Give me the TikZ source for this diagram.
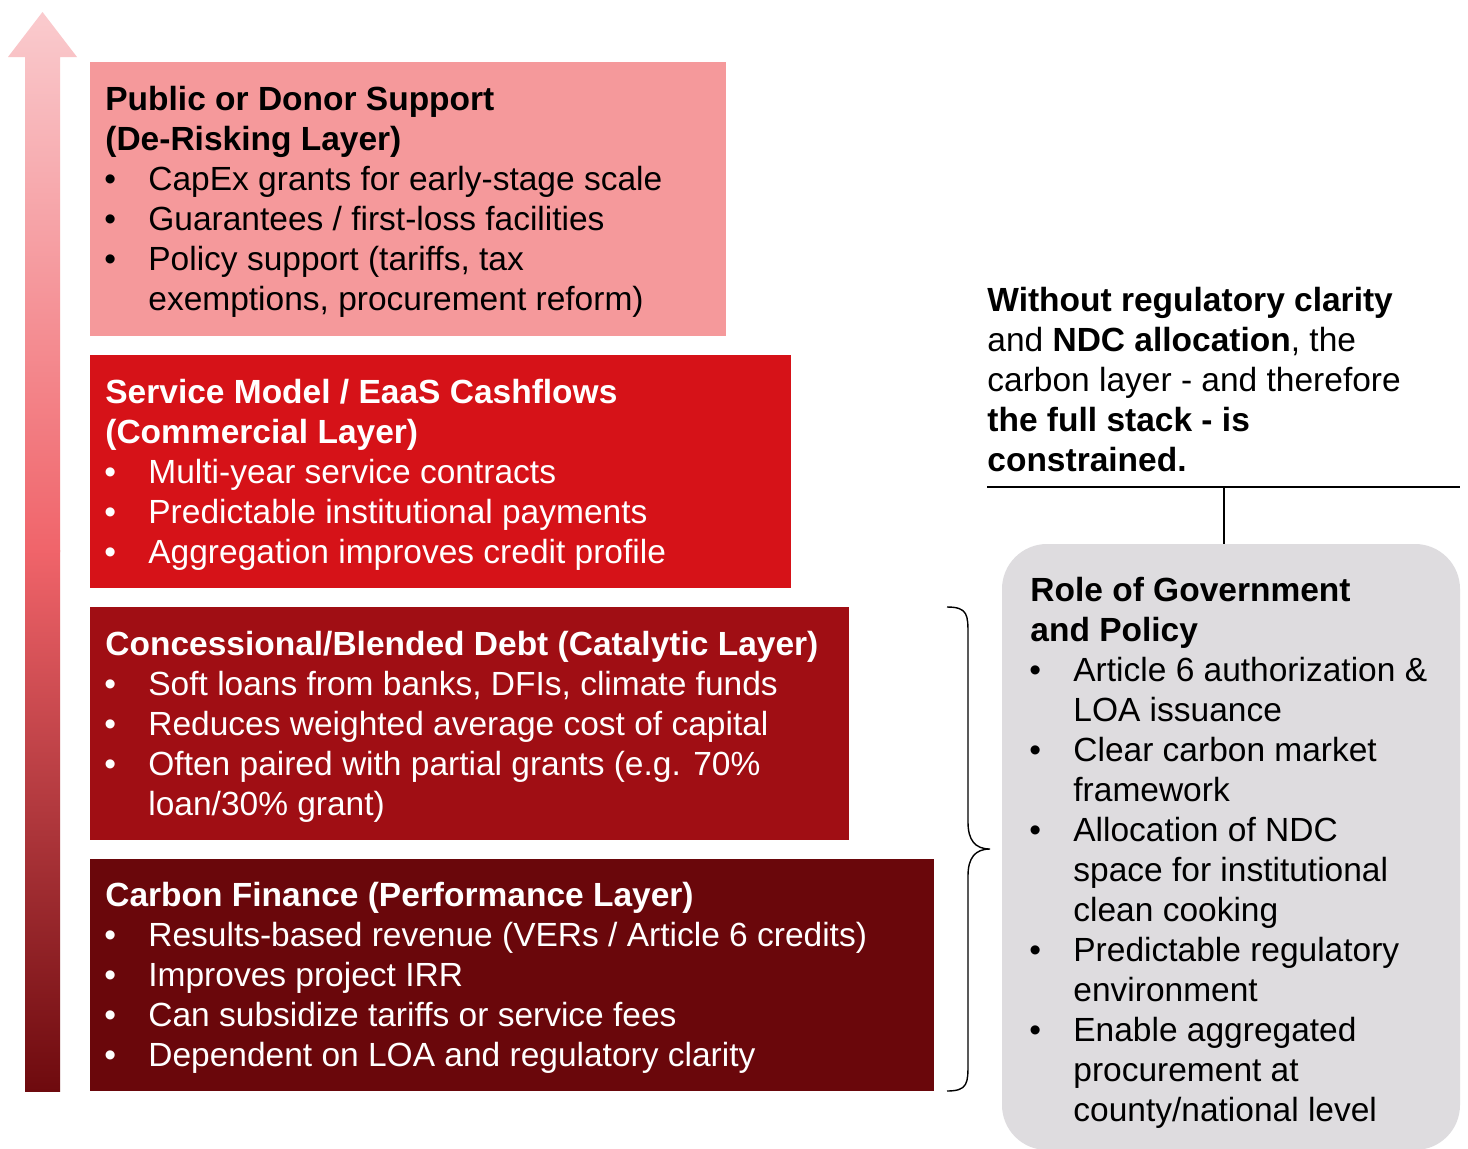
\documentclass[tikz,border=0pt]{standalone}
\usepackage{fontspec}
\setmainfont{Liberation Sans}
\definecolor{layerA}{HTML}{F5999B}
\definecolor{layerB}{HTML}{D61218}
\definecolor{layerC}{HTML}{A00E14}
\definecolor{layerD}{HTML}{6A070B}
\definecolor{govgrey}{HTML}{DEDCDF}
\definecolor{arrtop}{HTML}{FACBCE}
\definecolor{arrmid}{HTML}{F0646A}
\definecolor{arrbot}{HTML}{6E0A0E}
\newcommand\bul{\makebox[21.5pt][l]{\hspace{-0.5pt}•}}
\newcommand\ind{\hbox to 21.5pt{}}
\tikzset{
  layerbox/.style={anchor=north west, inner sep=0pt, draw=none},
  txt/.style={anchor=base west, inner sep=0pt, align=left, font=\fontsize{16.75pt}{20pt}\selectfont},
  thinline/.style={draw=black, line width=0.7pt}
}
\begin{document}
\begin{tikzpicture}[x=0.5pt,y=-0.5pt]
\clip (0,0) rectangle (1468,1148);
\fill[white] (0,0) rectangle (1468,1148);
% gradient arrow (two shaded parts)
\shade[top color=arrtop, bottom color=arrmid]
  (25,552) -- (25,57) -- (8,57) -- (42.5,12) -- (77,57) -- (60,57) -- (60,552) -- cycle;
\shade[top color=arrmid, bottom color=arrbot]
  (25,1091) -- (25,550) -- (60,550) -- (60,1091) -- cycle;
% layer boxes
\node[layerbox, fill=layerA, minimum width=318pt, minimum height=137pt] (boxA) at (90,62) {};
\node[layerbox, fill=layerB, minimum width=350.5pt, minimum height=116.5pt] (boxB) at (90,355) {};
\node[layerbox, fill=layerC, minimum width=379.5pt, minimum height=116.5pt] (boxC) at (90,607) {};
\node[layerbox, fill=layerD, minimum width=422pt, minimum height=116pt] (boxD) at (90,859) {};
% texts (anchored at the baseline of their last line)
\node[txt, text=black] (tA) at (105,310) {\textbf{Public or Donor Support}\\\textbf{(De-Risking Layer)}\\
\bul CapEx grants for early-stage scale\\
\bul Guarantees / first-loss facilities\\
\bul Policy support (tariffs, tax\\
\ind exemptions, procurement reform)};
\node[txt, text=white] (tB) at (105,563) {\textbf{Service Model / EaaS Cashflows}\\\textbf{(Commercial Layer)}\\
\bul Multi-year service contracts\\
\bul Predictable institutional payments\\
\bul Aggregation improves credit profile};
\node[txt, text=white] (tC) at (105,815) {\textbf{Concessional/Blended Debt (Catalytic Layer)}\\
\bul Soft loans from banks, DFIs, climate funds\\
\bul Reduces weighted average cost of capital\\
\bul Often paired with partial grants (e.g. 70\%\\
\ind loan/30\% grant)};
\node[txt, text=white] (tD) at (105,1066) {\textbf{Carbon Finance (Performance Layer)}\\
\bul Results-based revenue (VERs / Article 6 credits)\\
\bul Improves project IRR\\
\bul Can subsidize tariffs or service fees\\
\bul Dependent on LOA and regulatory clarity};
% brace
\coordinate (brTop) at (947,607);
\coordinate (brTip) at (990,849);
\coordinate (brBot) at (947,1091);
\draw[thinline] (brTop) .. controls (968,607) and (968,615) .. (968,635) -- (968,822)
  .. controls (968,840) and (975,849) .. (brTip)
  .. controls (975,849) and (968,858) .. (968,876) -- (968,1063)
  .. controls (968,1083) and (968,1091) .. (brBot);
% government box
\fill[govgrey, rounded corners=22.5pt] (1002,544) rectangle (1460,1150);
\coordinate (govTop) at (1224,544);
\node[txt, text=black] (tG) at (1030,1121) {\textbf{Role of Government}\\\textbf{and Policy}\\
\bul Article 6 authorization \&\\
\ind LOA issuance\\
\bul Clear carbon market\\
\ind framework\\
\bul Allocation of NDC\\
\ind space for institutional\\
\ind clean cooking\\
\bul Predictable regulatory\\
\ind environment\\
\bul Enable aggregated\\
\ind procurement at\\
\ind county/national level};
% statement
\node[txt, text=black] (tS) at (987,471) {\textbf{Without regulatory clarity}\\
and \textbf{NDC allocation}, the\\
carbon layer - and therefore\\
\textbf{the full stack - is}\\
\textbf{constrained.}};
\coordinate (lineL) at (987,487);
\coordinate (lineR) at (1460,487);
\coordinate (lineM) at (1224,487);
\draw[thinline] (lineL) -- (lineR);
\draw[thinline] (lineM) -- (govTop);
\end{tikzpicture}
\end{document}
